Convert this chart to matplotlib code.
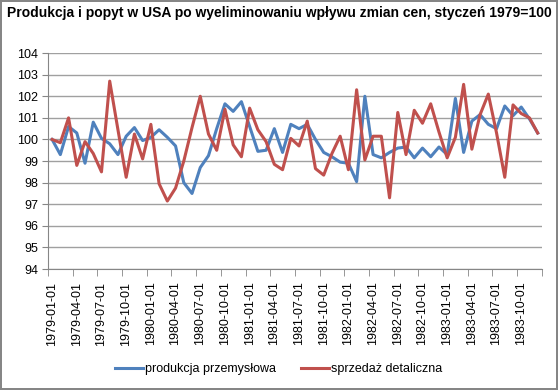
import matplotlib.pyplot as plt
import numpy as np

# monthly data, 1979-01 .. 1983-12
months = [f"{y}-{m:02d}-01" for y in range(1979, 1984) for m in range(1, 13)]

produkcja = [
    100.0, 99.3, 100.6, 100.3, 98.9, 100.8, 100.05, 99.8, 99.3, 100.15, 100.55, 99.95,
    100.1, 100.45, 100.1, 99.7, 98.0, 97.5, 98.7, 99.25, 100.5, 101.65, 101.3, 101.75,
    100.6, 99.45, 99.5, 100.5, 99.4, 100.7, 100.5, 100.7, 100.0, 99.4, 99.2, 98.95,
    98.9, 98.05, 102.0, 99.3, 99.15, 99.4, 99.6, 99.65, 99.15, 99.6, 99.2, 99.65,
    99.3, 101.9, 99.4, 100.85, 101.15, 100.7, 100.5, 101.55, 101.1, 101.5, 100.95, 100.3,
]

sprzedaz = [
    100.0, 99.85, 101.0, 98.8, 99.9, 99.35, 98.5, 102.7, 100.45, 98.25, 100.25, 99.1,
    100.7, 97.95, 97.15, 97.75, 99.0, 100.55, 102.0, 100.25, 99.5, 101.4, 99.75, 99.2,
    101.45, 100.45, 99.9, 98.85, 98.6, 100.05, 99.7, 100.85, 98.65, 98.35, 99.35, 100.15,
    98.6, 102.3, 99.05, 100.15, 100.15, 97.3, 101.25, 99.3, 101.35, 100.75, 101.65, 100.35,
    99.15, 100.1, 102.55, 99.55, 101.15, 102.1, 100.3, 98.25, 101.6, 101.2, 101.0, 100.3,
]

plt.rcParams['font.family'] = ['Liberation Sans', 'DejaVu Sans']

fig = plt.figure(figsize=(5.58, 3.9), dpi=100)
fig.patch.set_edgecolor('#868686')
fig.patch.set_linewidth(1.5)
ax = fig.add_axes([0.086, 0.310, 0.885, 0.554])

x = np.arange(len(months))
ax.plot(x, produkcja, color='#4F81BD', lw=2.2, label='produkcja przemysłowa')
ax.plot(x, sprzedaz, color='#C0504D', lw=2.2, label='sprzedaż detaliczna')

ax.set_xlim(-0.5, len(months) - 0.5)
ax.set_ylim(94, 104)
ax.set_yticks(range(94, 105))
ax.set_xticks(x[::3], months[::3], rotation=90, fontsize=9)
ax.set_xticks(np.arange(-0.5, len(months), 3), minor=True)
ax.tick_params(axis='x', which='major', length=0, pad=9)
ax.tick_params(axis='x', which='minor', length=5, color='#868686')
ax.tick_params(axis='y', length=4, color='#868686', labelsize=9, pad=3)

ax.grid(axis='y', color='#A0A0A0', lw=1)
ax.set_axisbelow(True)
for s in ['top', 'right']:
    ax.spines[s].set_visible(False)
for s in ['left', 'bottom']:
    ax.spines[s].set_color('#868686')

fig.text(0.5, 0.966, 'Produkcja i popyt w USA po wyeliminowaniu wpływu zmian cen, styczeń 1979=100',
         ha='center', va='center', fontsize=10, fontweight='bold')

fig.legend(loc='center', bbox_to_anchor=(0.5, 0.054), ncol=2, frameon=False,
           fontsize=9, handlelength=2.2, columnspacing=2.0, handletextpad=0.2)

fig.savefig('out.png', dpi=100)
